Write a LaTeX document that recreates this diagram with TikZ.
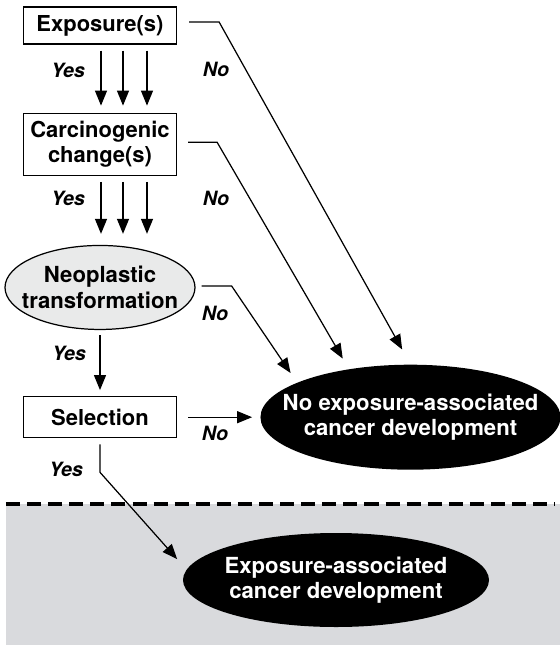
\documentclass[tikz,border=0pt]{standalone}
\usepackage{fontspec}
\setmainfont{TeX Gyre Heros}
\usepackage{xcolor}
\usepackage{tikz}
\usetikzlibrary{shapes.geometric, arrows.meta, positioning, calc}
\definecolor{bandgray}{RGB}{217,218,221}
\definecolor{neogray}{RGB}{233,234,234}

\begin{document}
\begin{tikzpicture}[
  node distance = 1.36cm,
  stepbox/.style  = {rectangle, draw=black, line width=0.7pt, minimum width=3.06cm,
                  align=center, inner sep=2pt, font=\fontsize{12.5}{14.5}\selectfont\bfseries},
  neonode/.style  = {ellipse, draw=black, fill=neogray, line width=0.7pt,
                  minimum width=3.8cm, minimum height=1.68cm},
  outnode/.style  = {ellipse, fill=black, minimum width=6.0cm, minimum height=2.1cm},
  eltxt/.style    = {align=center, inner sep=0pt, font=\fontsize{12.6}{14.5}\selectfont\bfseries},
  lbl/.style      = {inner sep=1pt, font=\fontsize{11.2}{13}\selectfont\bfseries\itshape},
  arr/.style      = {-{Triangle[length=8.5pt, width=6.8pt]}, line width=0.7pt},
  dashline/.style = {line width=2.2pt, dash pattern=on 8pt off 4pt},
]
\useasboundingbox (0,0) rectangle (11.2,-12.9);

%% Lower band (exposure-associated outcome)
\fill[bandgray] (0.12,-10.08) rectangle (11.2,-12.9);
\draw[dashline] (0.12,-10.08) -- (11.1,-10.08);

%% Main column
\node[stepbox, minimum height=0.74cm] (expo) at (2.0,-0.51) {Exposure(s)};
\node[stepbox, minimum height=1.24cm, below=1.36cm of expo] (carc) {Carcinogenic\\change(s)};
\node[neonode, below=1.38cm of carc] (neo) {};
\node[eltxt] (neotxt) at (neo) {Neoplastic\\transformation};
\node[stepbox, minimum height=0.82cm, below=1.32cm of neo] (sel) {Selection};

%% Outcomes
\node[outnode, right=1.66cm of sel] (noca) {};
\node[eltxt, text=white] (nocatxt) at (noca) {No exposure-associated\\cancer development};
\node[outnode, minimum width=6.12cm, minimum height=1.88cm] (yesca) at (6.72,-11.6) {};
\node[eltxt, text=white] (yescatxt) at (yesca) {Exposure-associated\\cancer development};

%% Yes arrows
\foreach \dx in {0.02, 0.46, 0.94} {
  \draw[arr, shorten <=0.12cm, shorten >=0.14cm] ([xshift=\dx cm]expo.south) -- ([xshift=\dx cm]carc.north);
  \draw[arr, shorten <=0.12cm, shorten >=0.22cm] ([xshift=\dx cm]carc.south) -- ([xshift=\dx cm]neo.north);
}
\draw[arr, shorten <=0.1cm, shorten >=0.12cm] (neo.south) -- (sel.north);
\draw[arr, shorten >=0.28cm] ([yshift=-0.12cm]sel.south) -- ++(0,-0.56) -- (yesca.176);

%% No arrows
\draw[arr, shorten >=0.34cm] ([xshift=0.24cm, yshift=0.07cm]expo.east) -- ++(0.6,0) -- (noca.north);
\draw[arr, shorten >=0.24cm] ([xshift=0.22cm, yshift=0.04cm]carc.east) -- ++(0.58,0) -- (noca.142);
\draw[arr, shorten >=0.23cm] ([xshift=0.12cm, yshift=0.03cm]neo.east) -- ++(0.6,0) -- (noca.163);
\draw[arr, shorten <=0.22cm, shorten >=0.16cm] (sel.east) -- (noca.west);

%% Labels
\node[lbl] (yes1) at (1.36,-1.40) {Yes};
\node[lbl] (no1)  at (4.32,-1.38) {No};
\node[lbl] (yes2) at (1.36,-3.96) {Yes};
\node[lbl] (no2)  at (4.32,-3.96) {No};
\node[lbl] (no3)  at (4.30,-6.26) {No};
\node[lbl] (yes3) at (1.38,-7.06) {Yes};
\node[lbl] (no4)  at (4.30,-8.66) {No};
\node[lbl] (yes4) at (1.32,-9.38) {Yes};

\end{tikzpicture}
\end{document}
